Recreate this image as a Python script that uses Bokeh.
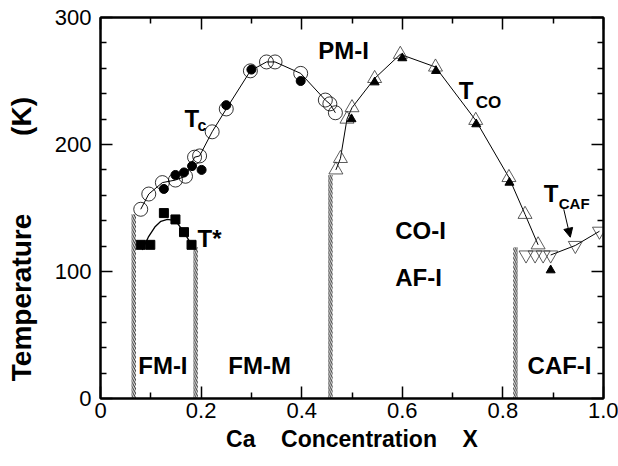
from bokeh.plotting import figure
from bokeh.models import FixedTicker, LinearAxis, Arrow, NormalHead
from bokeh.embed import file_html
from bokeh.resources import INLINE
from bokeh.core.properties import value

FONT = "Liberation Sans"
NB = "\u00a0"

# T_c: open and filled circles
tc_open_x = [0.080, 0.096, 0.123, 0.149, 0.169, 0.187, 0.197, 0.222, 0.250, 0.298,
             0.330, 0.347, 0.398, 0.447, 0.456, 0.467]
tc_open_t = [149, 161, 170, 172, 175, 190, 191, 210, 228, 258,
             265, 265, 256, 235, 232, 225]
tc_fill_x = [0.126, 0.149, 0.166, 0.182, 0.201, 0.250, 0.300, 0.398]
tc_fill_t = [165, 176, 178, 183, 180, 231, 259, 250]

# T*: filled squares and the guide curve through them
ts_x = [0.080, 0.099, 0.126, 0.149, 0.166, 0.181]
ts_t = [121, 121, 146, 141, 131, 121]
ts_curve_x = [0.083, 0.095, 0.108, 0.120, 0.133, 0.149, 0.166, 0.181]
ts_curve_t = [117, 127, 135, 139.5, 141, 140, 131, 121]

# T_CO: open and filled up-triangles
tco_open_x = [0.468, 0.477, 0.490, 0.500, 0.545, 0.596, 0.666, 0.746, 0.812, 0.844, 0.870]
tco_open_t = [180, 189, 220, 229, 252, 271, 261, 219, 174, 145, 121]
tco_fill_x = [0.499, 0.545, 0.600, 0.667, 0.747, 0.813, 0.895]
tco_fill_t = [220, 249, 268, 258, 216, 170, 101]

# T_CAF: open down-triangles (line starts at the last of the low-T cluster)
tcaf_x = [0.846, 0.864, 0.880, 0.895, 0.944, 0.992]
tcaf_t = [113, 113, 113, 113, 120.5, 131.7]

# hatched phase boundaries
boundary_x = [0.066, 0.189, 0.457, 0.825]
boundary_top = [145, 119, 176, 119]

# axis ticks
x_ticks = [0, 0.2, 0.4, 0.6, 0.8, 1.0]
x_tick_labels = ["0", "0.2", "0.4", "0.6", "0.8", "1.0"]
x_minor = [0.1, 0.3, 0.5, 0.7, 0.9]
y_ticks = [0, 100, 200, 300]
y_tick_labels = ["0", "100", "200", "300"]
y_minor = [20, 40, 60, 80, 120, 140, 160, 180, 220, 240, 260, 280]

# phase region names and curve names: (text, x, T, font size)
region_labels = [
    ("PM-I", 0.433, 274, "24px"),
    ("CO-I", 0.586, 132, "24px"),
    ("AF-I", 0.586, 95, "24px"),
    ("FM-I", 0.075, 26, "24px"),
    ("FM-M", 0.254, 26, "24px"),
    ("CAF-I", 0.849, 26, "24px"),
    ("T*", 0.193, 126, "24px"),
    ("T", 0.167, 220.5, "24px"),
    ("c", 0.193, 215, "16px"),
    ("T", 0.712, 242.5, "24px"),
    ("CO", 0.746, 233, "17px"),
    ("T", 0.881, 161.5, "24px"),
    ("CAF", 0.911, 153.5, "15px"),
]

# T_CAF pointer: (x_start, T_start, x_end, T_end)
caf_arrow = (0.921, 149, 0.934, 127)

p = figure(width=618, height=466, x_range=(0, 1), y_range=(0, 300),
           output_backend="svg", toolbar_location=None,
           x_axis_location=None, y_axis_location=None,
           min_border_left=100, min_border_right=15,
           min_border_top=17, min_border_bottom=68)
p.grid.visible = False
p.outline_line_color = "black"
p.outline_line_width = 2
p.background_fill_color = "white"
p.border_fill_color = "white"


def make_axis(ticks, minor, labels, show_labels):
    ax = LinearAxis(ticker=FixedTicker(ticks=ticks, minor_ticks=minor))
    ax.axis_line_width = 2
    ax.axis_line_color = "black"
    ax.major_tick_in = 12
    ax.major_tick_out = 0
    ax.minor_tick_in = 6
    ax.minor_tick_out = 0
    ax.major_tick_line_width = 1.5
    ax.minor_tick_line_width = 1.5
    ax.major_label_text_font = FONT
    ax.major_label_text_font_size = "22px"
    ax.major_label_text_color = "black"
    ax.axis_label_text_color = "black"
    ax.axis_label_text_font = FONT
    ax.axis_label_text_font_style = "bold"
    if show_labels:
        ax.major_label_overrides = {t: s for t, s in zip(ticks, labels)}
    else:
        ax.major_label_text_alpha = 0
        ax.major_label_text_font_size = "1px"
        ax.major_label_standoff = 0
    return ax


bottom_axis = make_axis(x_ticks, x_minor, x_tick_labels, True)
bottom_axis.major_label_standoff = 4
bottom_axis.axis_label = "Ca" + NB * 4 + "Concentration" + NB * 4 + "X"
bottom_axis.axis_label_text_font_size = "23px"
bottom_axis.axis_label_standoff = 5
p.add_layout(bottom_axis, "below")

left_axis = make_axis(y_ticks, y_minor, y_tick_labels, True)
left_axis.major_label_standoff = 9
left_axis.axis_label = "Temperature" + NB * 10 + "(K)" + NB * 8
left_axis.axis_label_text_font_size = "28px"
left_axis.axis_label_standoff = 15
p.add_layout(left_axis, "left")

p.add_layout(make_axis(x_ticks, x_minor, x_tick_labels, False), "above")
p.add_layout(make_axis(y_ticks, y_minor, y_tick_labels, False), "right")

# hatched boundaries
p.vbar(x=boundary_x, top=boundary_top, bottom=0, width=0.009,
       fill_color=None, line_color=None,
       hatch_pattern="left_diagonal_line", hatch_color="#222222",
       hatch_scale=4.5, hatch_weight=1)

# connecting lines
p.line(tc_open_x, tc_open_t, line_color="black", line_width=1)
p.line(ts_curve_x, ts_curve_t, line_color="black", line_width=1.3)
p.line(tco_open_x, tco_open_t, line_color="black", line_width=1)
p.line(tcaf_x[3:], tcaf_t[3:], line_color="black", line_width=1)

# markers
p.scatter(tc_open_x, tc_open_t, marker="circle", size=14,
          fill_color=None, line_color="black", line_width=0.8)
p.scatter(tc_fill_x, tc_fill_t, marker="circle", size=9,
          fill_color="black", line_color="black")
p.scatter(ts_x, ts_t, marker="square", size=9,
          fill_color="black", line_color="black")
p.scatter(tco_open_x, tco_open_t, marker="triangle", size=14,
          fill_color=None, line_color="#333333", line_width=0.8)
p.scatter(tco_fill_x, tco_fill_t, marker="triangle", size=9,
          fill_color="black", line_color="black")
p.scatter(tcaf_x, tcaf_t, marker="inverted_triangle", size=14,
          fill_color=None, line_color="#333333", line_width=0.8)

# text labels
for txt, x, t, fs in region_labels:
    p.text(x=[x], y=[t], text=[txt], text_font=value(FONT),
           text_font_style="bold", text_font_size=fs,
           text_align="left", text_baseline="alphabetic", text_color="black")

p.add_layout(Arrow(end=NormalHead(size=9, fill_color="black", line_color="black"),
                   x_start=caf_arrow[0], y_start=caf_arrow[1],
                   x_end=caf_arrow[2], y_end=caf_arrow[3],
                   line_color="black", line_width=1))

open("out.html", "w").write(file_html(p, INLINE))
